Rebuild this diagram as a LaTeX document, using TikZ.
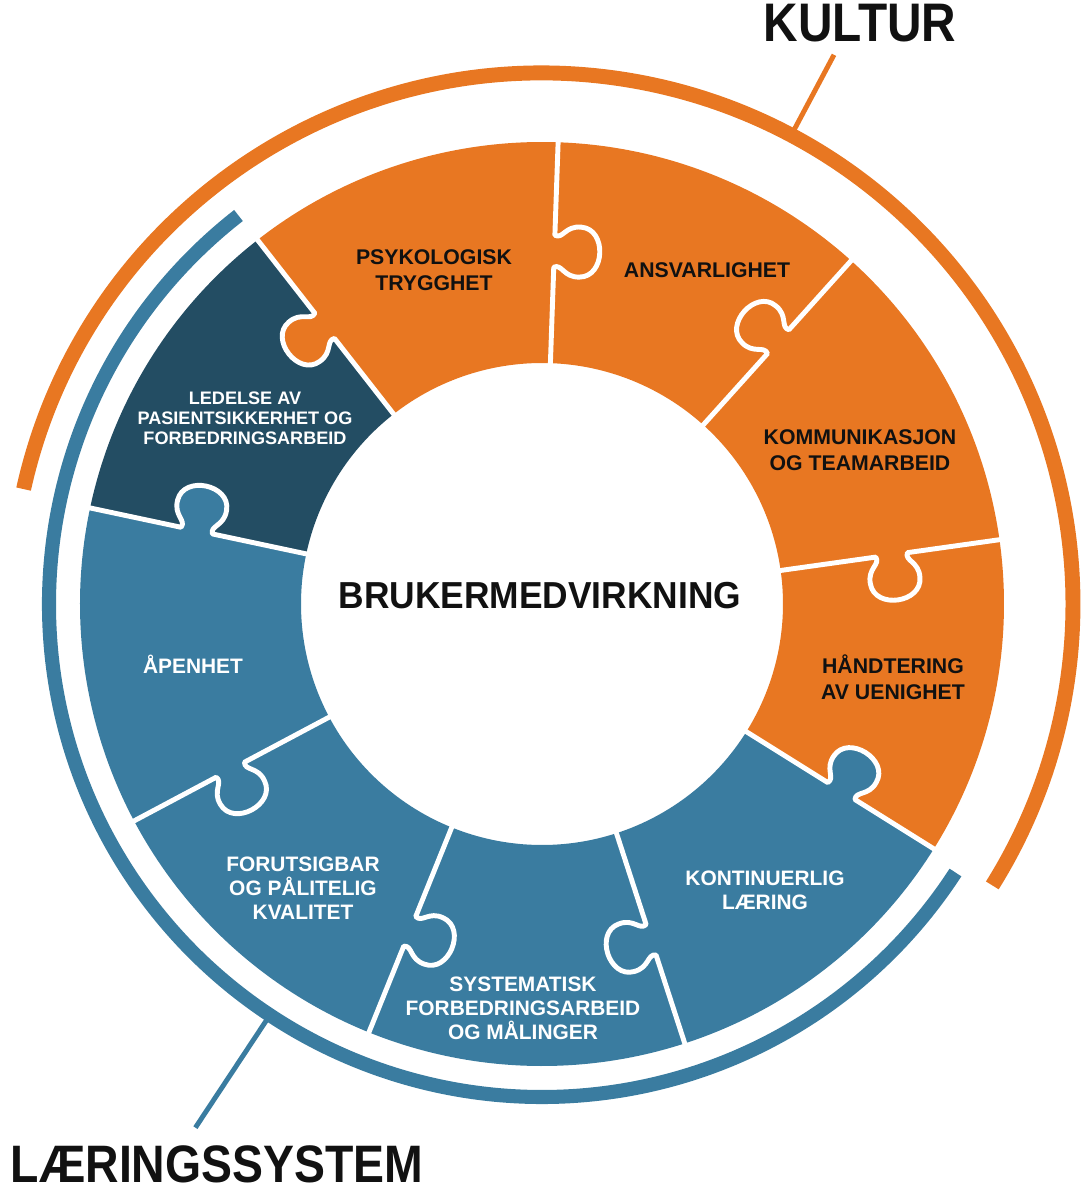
\documentclass[tikz,border=0pt]{standalone}
\usepackage{fontspec}
\setmainfont{Liberation Sans}
\newfontfamily\headfont{Liberation Sans}[FakeStretch=0.88]
\newfontfamily\midfont{Liberation Sans}[FakeStretch=0.94]
\usetikzlibrary{calc}
\definecolor{kultur}{HTML}{E87722}
\definecolor{laering}{HTML}{3A7CA0}
\definecolor{ledelse}{HTML}{234D63}
\definecolor{ink}{HTML}{111111}

\begin{document}
\begin{tikzpicture}[x=0.02cm, y=0.02cm,
	seam/.style={draw=white, line width=2.8pt, line join=round},
	inklbl/.style={font=\bfseries\fontsize{12.1}{14.5}\selectfont, align=center, text=ink},
	whitelbl/.style={font=\bfseries\fontsize{11.9}{13.6}\selectfont, align=center, text=white},
	headlbl/.style={font=\headfont\bfseries\fontsize{30.9}{34}\selectfont, text=ink}]
	\useasboundingbox (-542,-587) rectangle (538,604);
	% puzzle ring, nine pieces of 40 degrees
	\foreach \a/\c in {88/kultur, 48/kultur, 8/kultur, -32/kultur, -72/laering, -112/laering, -152/laering, 168/laering, 128/ledelse}
		\fill[\c] (\a:241) -- (\a:462) arc[start angle=\a, end angle=\a+40, radius=462]
			-- ({\a+40}:241) arc[start angle=\a+40, end angle=\a, radius=241] -- cycle;
	% seams with knobs
	\foreach \a/\s/\c in {88/-1/kultur, 48/1/kultur, 8/-1/kultur, -32/1/laering, -72/-1/laering, -112/1/laering, -152/1/laering, 168/-1/laering, 128/1/kultur} {
		\begin{scope}[rotate=\a, yscale=\s]
			\fill[\c] (337,-5) -- (337,0) .. controls (341,8) and (327,10) .. (328,26) .. controls (329,52) and (377,52) .. (378,26)
				.. controls (379,10) and (365,8) .. (369,0) -- (369,-5) -- cycle;
			\draw[seam] (238,0) -- (337,0) .. controls (341,8) and (327,10) .. (328,26) .. controls (329,52) and (377,52) .. (378,26)
				.. controls (379,10) and (365,8) .. (369,0) -- (465,0);
		\end{scope}
	}
	% outer bands
	\draw[kultur, line width=8.5pt] (167.5:531) arc[start angle=167.5, end angle=-32, radius=531];
	\draw[laering, line width=8pt] (128:493) arc[start angle=128, end angle=327, radius=493];
	\coordinate (kulturtip) at (62:622);
	\coordinate (laeringtip) at (236.5:628);
	\draw[kultur, line width=2.8pt] (62:531) -- (kulturtip);
	\draw[laering, line width=2.8pt] (236.5:493) -- (laeringtip);
	% labels
	\node[inklbl] (psyk) at (-108,334) {PSYKOLOGISK\\TRYGGHET};
	\node[inklbl] (ansvar) at (165,334) {ANSVARLIGHET};
	\node[inklbl] (komm) at (318,154) {KOMMUNIKASJON\\OG TEAMARBEID};
	\node[inklbl] (uenig) at (351,-73) {HÅNDTERING\\AV UENIGHET};
	\node[whitelbl] (kont) at (223,-286) {KONTINUERLIG\\LÆRING};
	\node[whitelbl] (system) at (-19,-404) {SYSTEMATISK\\FORBEDRINGSARBEID\\OG MÅLINGER};
	\node[whitelbl] (forut) at (-239,-284) {FORUTSIGBAR\\OG PÅLITELIG\\KVALITET};
	\node[whitelbl] (aapen) at (-349,-60) {ÅPENHET};
	\node[whitelbl, font=\bfseries\fontsize{10.3}{11.4}\selectfont] (ledelse) at (-297,186) {LEDELSE AV\\PASIENTSIKKERHET OG\\FORBEDRINGSARBEID};
	\node[headlbl, font=\midfont\bfseries\fontsize{21.4}{24}\selectfont] (bruker) at (-2,8) {BRUKERMEDVIRKNING};
	\node[headlbl] (kulturlbl) at (318,581) {KULTUR};
	\node[headlbl, font=\headfont\bfseries\fontsize{30}{34}\selectfont, inner sep=1pt] (laeringlbl) at (-325,-560) {LÆRINGSSYSTEM};
\end{tikzpicture}
\end{document}
